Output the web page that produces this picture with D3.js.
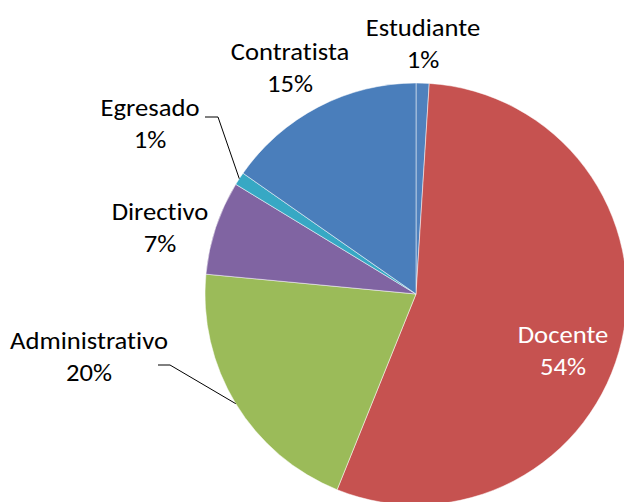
<!DOCTYPE html>
<html>
<head>
<meta charset="utf-8">
<script src="https://cdn.jsdelivr.net/npm/d3@7"></script>
<style>
  body { margin: 0; background: #fff; }
  svg text { font-family: Carlito, Calibri, "Open Sans", sans-serif; font-size: 25px; fill: #000;
             font-variant-ligatures: none; }
</style>
</head>
<body>
<svg id="chart" width="624" height="502"></svg>
<script>
// Data (clockwise from 12 o'clock)
var categories = ["Estudiante", "Docente", "Administrativo", "Directivo", "Egresado", "Contratista"];
var shares = [1.0, 55.1, 20.4, 7.2, 1.0, 15.3];
var percentLabels = ["1%", "54%", "20%", "7%", "1%", "15%"];

var colors = ["#4f81bd", "#c65250", "#9bbb59", "#8064a2", "#37a8c4", "#4a7ebb"];

// label placement (centre x, first baseline y) and leader lines
var labelPos = {
  "Estudiante":     { x: 423, y: 36 },
  "Docente":        { x: 563, y: 343, color: "#fff" },
  "Administrativo": { x: 89,  y: 349, leader: [158, 365, 170] },
  "Directivo":      { x: 160, y: 220 },
  "Egresado":       { x: 150, y: 116, leader: [205, 117, 218] },
  "Contratista":    { x: 290, y: 60 }
};
var lineGap = 32;
var stretchX = 1.065; // the reference text is a bit wide

var svg = d3.select("#chart");
var cx = 416, cy = 294, radius = 211;

var rows = categories.map(function (c, i) {
  return { name: c, value: shares[i], label: percentLabels[i], color: colors[i] };
});

var pie = d3.pie().sort(null).value(function (d) { return d.value; });
var arc = d3.arc().innerRadius(0).outerRadius(radius);
var arcs = pie(rows);

var g = svg.append("g").attr("transform", "translate(" + cx + "," + cy + ")");

g.selectAll("path.slice")
  .data(arcs)
  .enter().append("path")
  .attr("class", "slice")
  .attr("d", arc)
  .attr("fill", function (d) { return d.data.color; })
  .attr("stroke", "#fff")
  .attr("stroke-width", 0.5);

// leader lines
arcs.forEach(function (a) {
  var p = labelPos[a.data.name];
  if (!p.leader) return;
  var mid = (a.startAngle + a.endAngle) / 2;
  var ex = cx + radius * Math.sin(mid);
  var ey = cy - radius * Math.cos(mid);
  svg.append("polyline")
    .attr("points", [[p.leader[0], p.leader[1]], [p.leader[2], p.leader[1]], [ex, ey]].join(" "))
    .attr("fill", "none")
    .attr("stroke", "#000")
    .attr("stroke-width", 1);
});

// labels
arcs.forEach(function (a) {
  var p = labelPos[a.data.name];
  var t = svg.append("text")
    .attr("transform", "translate(" + p.x + "," + p.y + ") scale(" + stretchX + ",1)")
    .attr("text-anchor", "middle")
    .style("fill", p.color || "#000");
  t.append("tspan").attr("x", 0).attr("y", 0).text(a.data.name);
  t.append("tspan").attr("x", 0).attr("y", lineGap).text(a.data.label);
});
</script>
</body>
</html>
